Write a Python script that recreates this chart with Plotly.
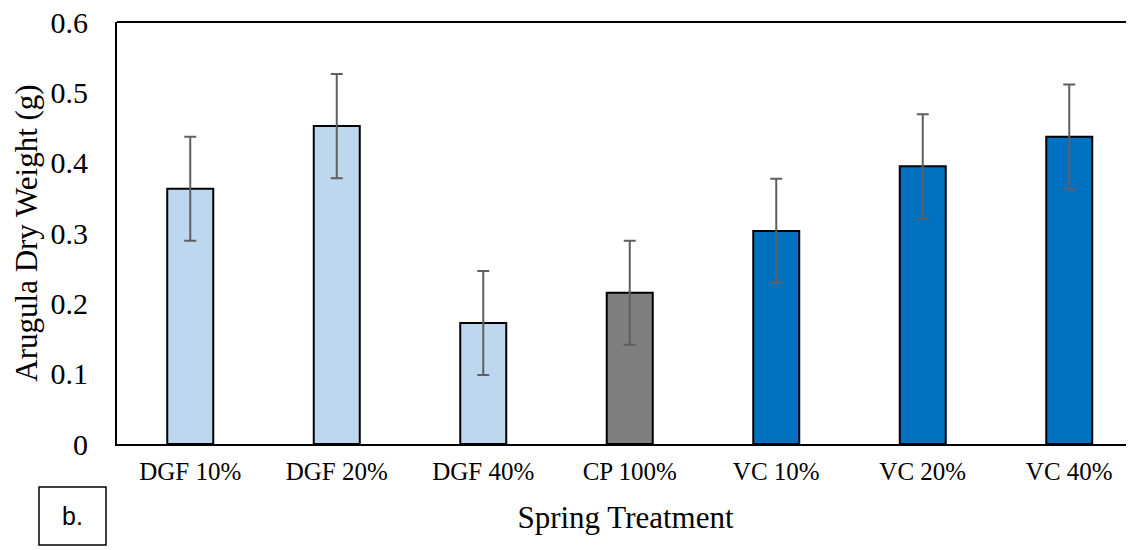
import plotly.graph_objects as go

categories = ["DGF 10%", "DGF 20%", "DGF 40%", "CP 100%", "VC 10%", "VC 20%", "VC 40%"]
values = [0.363, 0.452, 0.172, 0.215, 0.303, 0.395, 0.437]
errors = [0.074, 0.074, 0.074, 0.074, 0.074, 0.074, 0.074]
colors = ["#BDD7EE", "#BDD7EE", "#BDD7EE", "#7F7F7F", "#0070C0", "#0070C0", "#0070C0"]
y_ticks = [0, 0.1, 0.2, 0.3, 0.4, 0.5, 0.6]
y_ticktext = ["0", "0.1", "0.2", "0.3", "0.4", "0.5", "0.6"]

# page body has an 8px default margin; compensate so the visible window matches
OFF = 8
W, H = 1134 - OFF, 550 - OFF
ML, MR, MT, MB = 117 - OFF, 0, 22 - OFF, 106
serif = "Liberation Serif, Times New Roman, serif"

fig = go.Figure()
fig.add_trace(go.Bar(
    x=list(range(len(categories))), y=values,
    width=0.314,
    marker=dict(color=colors, line=dict(color="#000000", width=2)),
    error_y=dict(type="data", array=errors, visible=True, color="#5f5f5f", thickness=2, width=6),
    showlegend=False,
))

fig.update_layout(
    width=W, height=H,
    margin=dict(l=ML, r=MR, t=MT, b=MB, autoexpand=False),
    paper_bgcolor="white", plot_bgcolor="white",
    font=dict(family=serif, color="#000000"),
    xaxis=dict(
        range=[-0.5, 6.442],
        tickmode="array", tickvals=list(range(len(categories))), ticktext=categories,
        tickfont=dict(size=25, family=serif, color="#000000"),
        showgrid=False, zeroline=False,
        showline=True, linecolor="#000000", linewidth=2,
        ticks="", ticklabelstandoff=4,
        title=dict(text="Spring Treatment", font=dict(size=31, family=serif, color="#000000"), standoff=22),
    ),
    yaxis=dict(
        range=[0, 0.6],
        tickmode="array", tickvals=y_ticks, ticktext=y_ticktext,
        tickfont=dict(size=30, family=serif, color="#000000"),
        showgrid=False, zeroline=False,
        showline=True, linecolor="#000000", linewidth=2,
        ticks="", ticklabelstandoff=21, ticklabeloverflow="allow",
        title=dict(text="Arugula Dry Weight (g)", font=dict(size=31, family=serif, color="#000000"), standoff=4),
    ),
)

# top frame line
fig.add_shape(type="line", xref="paper", yref="paper", x0=0, x1=1, y0=1, y1=1,
              line=dict(color="#000000", width=2))

# "b." label box (positions given in window pixels)
pw = W - ML - MR
ph = H - MT - MB
def px_x(x):
    return (x - OFF - ML) / pw
def px_y(y):
    return (H - MB - (y - OFF)) / ph
fig.add_shape(type="rect", xref="paper", yref="paper",
              x0=px_x(39), x1=px_x(106), y0=px_y(545), y1=px_y(487),
              line=dict(color="#000000", width=1.5), fillcolor="white")
fig.add_annotation(xref="paper", yref="paper", x=px_x(72.5), y=px_y(516),
                   text="b.", showarrow=False,
                   font=dict(family="Liberation Sans, Arial, sans-serif", size=25, color="#000000"),
                   xanchor="center", yanchor="middle")

fig.write_html("out.html")
